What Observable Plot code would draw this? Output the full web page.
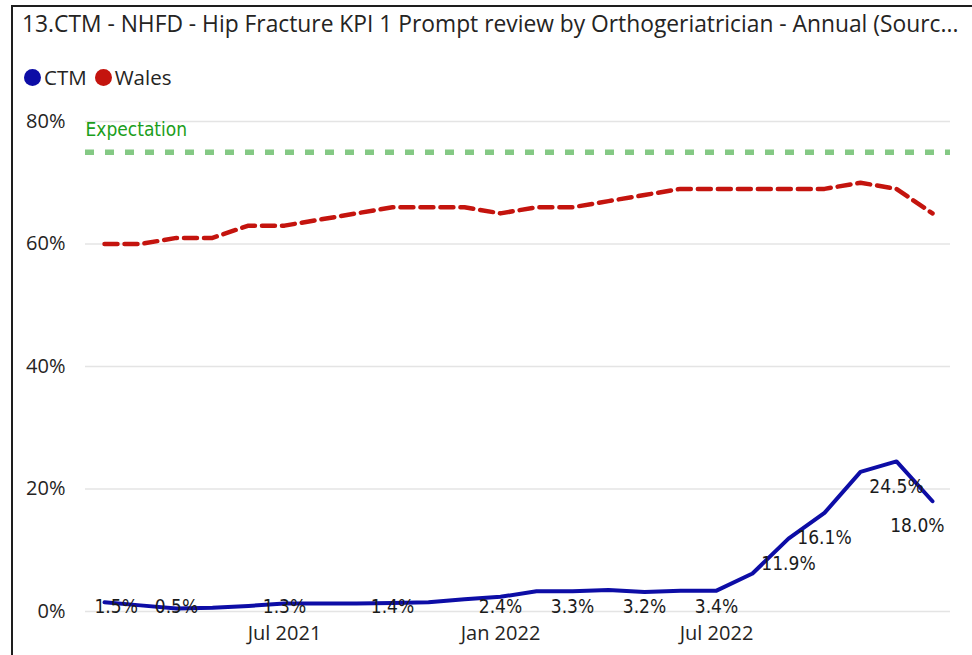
<!DOCTYPE html>
<html>
<head>
<meta charset="utf-8">
<script src="https://cdn.jsdelivr.net/npm/d3@7"></script>
<script src="https://cdn.jsdelivr.net/npm/@observablehq/plot@0.6"></script>
<style>
  html, body { margin: 0; padding: 0; background: #fff; }
  body { width: 972px; height: 655px; position: relative; overflow: hidden; font-family: "Segoe UI", "Open Sans", sans-serif; }
  #frame { position: absolute; left: 11px; top: 5px; width: 980px; height: 700px; border-left: 2px solid #1e1e1e; border-top: 2px solid #1e1e1e; box-sizing: border-box; }
  #title { position: absolute; left: 22px; top: 8px; font-size: 22.8px; line-height: 32px; color: #252423; white-space: nowrap; }
  #legend { position: absolute; left: 24px; top: 66px; display: flex; align-items: center; font-size: 20.5px; color: #252423; line-height: 22px; }
  .sw { width: 17px; height: 17px; border-radius: 50%; display: inline-block; margin-right: 3px; }
  .item { display: flex; align-items: center; margin-right: 8px; }
  #chart { position: absolute; left: 0; top: 100px; }
</style>
</head>
<body>
<div id="frame"></div>
<div id="title">13.CTM - NHFD - Hip Fracture KPI 1 Prompt review by Orthogeriatrician - Annual (Sourc...</div>
<div id="legend"></div>
<div id="chart"></div>
<script>
const months = ["2021-02","2021-03","2021-04","2021-05","2021-06","2021-07","2021-08","2021-09","2021-10","2021-11","2021-12",
  "2022-01","2022-02","2022-03","2022-04","2022-05","2022-06","2022-07","2022-08","2022-09","2022-10","2022-11","2022-12","2023-01"];
const ctm = [1.5, 1.0, 0.5, 0.6, 0.9, 1.3, 1.3, 1.3, 1.4, 1.5, 2.0, 2.4, 3.3, 3.3, 3.5, 3.2, 3.4, 3.4, 6.2, 11.9, 16.1, 22.8, 24.5, 18.0];
const wales = [60, 60, 61, 61, 63, 63, 64, 65, 66, 66, 66, 65, 66, 66, 67, 68, 69, 69, 69, 69, 69, 70, 69, 65];
const expectation = 75;
const expectationLabel = "Expectation";
const yTicks = [0, 20, 40, 60, 80];
const xTicks = ["2021-07", "2022-01", "2022-07"];
const labelledMonths = ["2021-02","2021-04","2021-07","2021-10","2022-01","2022-03","2022-05","2022-07","2022-09","2022-10","2022-12","2023-01"];
const seriesNames = ["CTM", "Wales"];
const seriesColors = ["#0d0da6", "#c4140e"];

const monthNames = ["Jan","Feb","Mar","Apr","May","Jun","Jul","Aug","Sep","Oct","Nov","Dec"];
const fmtMonth = m => monthNames[+m.slice(5) - 1] + " " + m.slice(0, 4);

// legend
const legend = document.getElementById("legend");
seriesNames.forEach((n, i) => {
  const it = document.createElement("span");
  it.className = "item";
  it.innerHTML = `<span class="sw" style="background:${seriesColors[i]}"></span><span>${n}</span>`;
  legend.appendChild(it);
});

const ctmData = months.map((m, i) => ({month: m, value: ctm[i]}));
const walesData = months.map((m, i) => ({month: m, value: wales[i]}));
const labels = ctmData.filter(d => labelledMonths.includes(d.month));
const firstLabel = labels.filter(d => d.month === months[0]);
const lastLabel = labels.filter(d => d.month === months[months.length - 1]);
const inner = labels.filter(d => d.month !== months[0] && d.month !== months[months.length - 1]);
const lowLabels = inner.filter(d => d.value < 5);
const highLabels = inner.filter(d => d.value >= 5);
const fmtPct = d => d.value.toFixed(1) + "%";
const labelFont = {fontFamily: "'DejaVu Sans Condensed', 'DejaVu Sans', sans-serif", fontSize: 19, fill: "#1b1b1b"};

const chart = Plot.plot({
  width: 972,
  height: 555,
  marginLeft: 85,
  marginRight: 22,
  marginTop: 21,
  marginBottom: 44,
  style: {fontFamily: "'Segoe UI', 'Open Sans', sans-serif", background: "transparent", overflow: "visible"},
  x: {type: "point", domain: months, padding: 0.5},
  y: {domain: [0, 80]},
  marks: [
    Plot.gridY(yTicks, {stroke: "#e4e4e4", strokeOpacity: 1, strokeWidth: 1.5}),
    Plot.axisY(yTicks, {tickSize: 0, tickPadding: 20, tickFormat: d => d + "%", fontSize: 20, fill: "#252423", label: null}),
    Plot.axisX(xTicks, {tickSize: 0, tickPadding: 14, tickFormat: fmtMonth, fontSize: 20, fill: "#252423", label: null}),
    Plot.ruleY([expectation], {stroke: "#84c984", strokeWidth: 5.5, strokeDasharray: "9,11"}),
    Plot.text([expectationLabel], {y: [expectation], frameAnchor: "left", textAnchor: "start", dy: -22, text: d => d,
      fontFamily: labelFont.fontFamily, fontSize: 19, fill: "#1b9e1b"}),
    Plot.line(walesData, {x: "month", y: "value", stroke: seriesColors[1], strokeWidth: 4.5, strokeDasharray: "13,7"}),
    Plot.line(ctmData, {x: "month", y: "value", stroke: seriesColors[0], strokeWidth: 4}),
    Plot.text(lowLabels, {x: "month", frameAnchor: "bottom", lineAnchor: "bottom", dy: 1, text: fmtPct, ...labelFont}),
    Plot.text(firstLabel, {x: "month", frameAnchor: "bottom", lineAnchor: "bottom", dy: 1, dx: -10, textAnchor: "start", text: fmtPct, ...labelFont}),
    Plot.text(highLabels, {x: "month", y: "value", dy: 25, text: fmtPct, ...labelFont}),
    Plot.text(lastLabel, {x: "month", y: "value", dy: 25, dx: 12, textAnchor: "end", text: fmtPct, ...labelFont})
  ]
});
document.getElementById("chart").appendChild(chart);
</script>
</body>
</html>
